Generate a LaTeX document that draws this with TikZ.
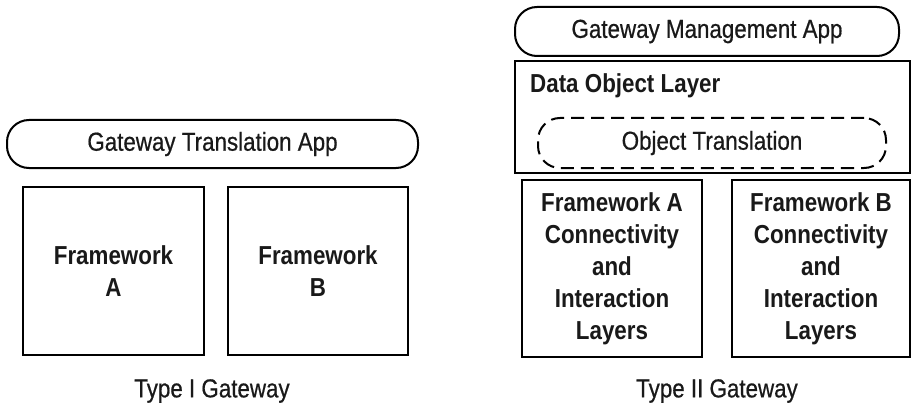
\documentclass[tikz,border=0pt]{standalone}
\usepackage{fontspec}
\setmainfont{Liberation Sans}[FakeStretch=0.86, UprightFeatures={FakeBold=0.6}]
\begin{document}
\begin{tikzpicture}[x=1pt,y=-1pt,
  every node/.style={font=\fontsize{26}{32}\selectfont, text=black!90},
  sq/.style={draw, line width=2pt, inner sep=0pt, align=center, font=\fontsize{26}{32}\selectfont\bfseries},
  pill/.style={draw, line width=2pt, rounded corners=22pt, inner sep=0pt},
  dpill/.style={draw, line width=2pt, rounded corners=22pt, inner sep=0pt, dash pattern=on 13pt off 7pt},
  captxt/.style={inner sep=0pt}]
\useasboundingbox (0,0) rectangle (912,409);
% Type I
\node[pill, minimum width=411pt, minimum height=48pt] (app1) at (212.5,144) {Gateway Translation App};
\node[sq, minimum width=181pt, minimum height=168pt] (fa1) at (113.5,271) {Framework\\A};
\node[sq, minimum width=180pt, minimum height=168pt] (fb1) at (318,271) {Framework\\B};
\node[captxt] (t1) at (212,391) {Type I Gateway};
% Type II
\node[pill, minimum width=384pt, minimum height=49pt] (app2) at (707,31.5) {Gateway Management App};
\node[draw, line width=2pt, minimum width=395pt, minimum height=112pt, inner sep=0pt] (dol) at (712.5,117) {};
\node[captxt, anchor=west, font=\fontsize{26}{32}\selectfont\bfseries] (doltxt) at (530,86) {Data Object Layer};
\node[dpill, minimum width=348pt, minimum height=50pt] (ot) at (712,143) {Object Translation};
\node[sq, minimum width=180pt, minimum height=177pt] (fa2) at (612,268.5) {Framework A\\Connectivity\\and\\Interaction\\Layers};
\node[sq, minimum width=178pt, minimum height=177pt] (fb2) at (821,268.5) {Framework B\\Connectivity\\and\\Interaction\\Layers};
\node[captxt] (t2) at (717,391) {Type II Gateway};
\end{tikzpicture}
\end{document}
